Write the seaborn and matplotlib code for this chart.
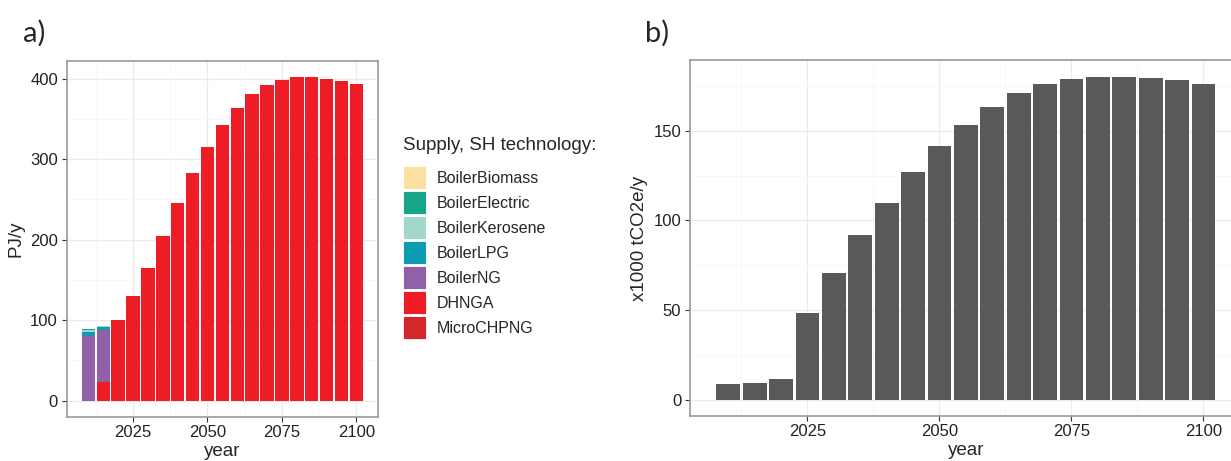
import numpy as np
import pandas as pd
import seaborn as sns
import matplotlib.pyplot as plt
from matplotlib.patches import Patch
from matplotlib.ticker import MultipleLocator

# ---- data ----
years = list(range(2010, 2101, 5))

techs = ['BoilerBiomass', 'BoilerElectric', 'BoilerKerosene', 'BoilerLPG',
         'BoilerNG', 'DHNGA', 'MicroCHPNG']
tech_colors = ['#FDDFA0', '#17A68A', '#A2D8CB', '#0E9CB3',
               '#9060A8', '#EE1C24', '#D3282B']

boiler_electric = [2.0, 1.0] + [0] * 17
boiler_kerosene = [2.0, 1.2] + [0] * 17
boiler_lpg = [4.5, 3.0] + [0] * 17
boiler_ng = [80.5, 64.2] + [0] * 17
dhnga = [0, 23.6, 100.2, 130.4, 165.2, 205, 245, 282.4, 315, 342, 364,
         381, 392, 398.3, 401.7, 401.7, 399.6, 397, 393]

emissions = [8.6, 9.3, 11.5, 48.3, 70.6, 91.8, 110, 126.8, 141.3, 153.5,
             163.4, 171, 176, 179, 180.3, 180.3, 179.4, 178.2, 176.4]

series = {
    'BoilerElectric': boiler_electric,
    'BoilerKerosene': boiler_kerosene,
    'BoilerLPG': boiler_lpg,
    'BoilerNG': boiler_ng,
    'DHNGA': dhnga,
}
rows = []
for tech, vals in series.items():
    for yr, v in zip(years, vals):
        rows.append({'year': yr, 'tech': tech, 'value': v})
supply = pd.DataFrame(rows)
co2 = pd.DataFrame({'year': years, 'value': emissions})

# ---- style ----
sns.set_style('white')
plt.rcParams['font.family'] = ['Liberation Sans', 'DejaVu Sans']
tick_fs = 12
lab_fs = 13.5
tick_col = '#333333'
frame_col = '#9A9A9A'

fig = plt.figure(figsize=(12.31, 4.61), dpi=100)
ax_a = fig.add_axes([0.0542, 0.0961, 0.2529, 0.7716])
ax_b = fig.add_axes([0.5605, 0.0983, 0.4482, 0.7705])

palette = dict(zip(techs, tech_colors))

# stacked bars, panel a (last hue level ends up at the bottom, like ggplot)
sns.histplot(data=supply, x='year', weights='value', hue='tech',
             hue_order=techs, palette=palette, multiple='stack',
             binwidth=5, binrange=(2007.5, 2102.5), shrink=0.9,
             alpha=1, linewidth=0, legend=False, ax=ax_a)

sns.barplot(data=co2, x='year', y='value', native_scale=True, width=0.9,
            color='#595959', saturation=1, errorbar=None, linewidth=0,
            ax=ax_b)


def style_axis(ax, ymax, ymajor, ylabel):
    ax.set_xlim(2002.75, 2107.25)
    ax.set_ylim(-0.05 * ymax, 1.05 * ymax)
    ax.xaxis.set_major_locator(MultipleLocator(25))
    ax.xaxis.set_minor_locator(MultipleLocator(12.5))
    ax.yaxis.set_major_locator(MultipleLocator(ymajor))
    ax.yaxis.set_minor_locator(MultipleLocator(ymajor / 2))
    ax.set_xticks([2025, 2050, 2075, 2100])
    ax.grid(which='major', color='#EBEBEB', lw=0.9, zorder=0)
    ax.grid(which='minor', color='#F5F5F5', lw=0.5, zorder=0)
    ax.set_axisbelow(True)
    ax.tick_params(which='major', length=3.8, width=0.8, color=tick_col,
                   labelsize=tick_fs, labelcolor='#222222', pad=2.5,
                   bottom=True, left=True)
    ax.tick_params(which='minor', length=0)
    for sp in ax.spines.values():
        sp.set_color(frame_col)
        sp.set_linewidth(1.2)
    ax.set_xlabel('year', fontsize=lab_fs, labelpad=2)
    ax.set_ylabel(ylabel, fontsize=lab_fs, labelpad=4)


style_axis(ax_a, 401.7, 100, 'PJ/y')
style_axis(ax_b, 180.3, 50, 'x1000 tCO2e/y')

# legend for panel a
fig.text(403 / 1231, 1 - 146 / 461, 'Supply, SH technology:',
         fontsize=13.5, va='center', ha='left')
handles = [Patch(facecolor=c, edgecolor='white', linewidth=0.6)
           for c in tech_colors]
fig.legend(handles, techs, loc='upper left',
           bbox_to_anchor=(402.5 / 1231, 1 - 166 / 461),
           frameon=False, fontsize=11.5, borderpad=0, borderaxespad=0,
           handlelength=1.46, handleheight=1.835, labelspacing=0.13,
           handletextpad=0.7)

fig.text(23 / 1231, 1 - 33 / 461, 'a)', fontsize=21, va='center',
         family=['Lato', 'DejaVu Sans'])
fig.text(645 / 1231, 1 - 33 / 461, 'b)', fontsize=21, va='center',
         family=['Lato', 'DejaVu Sans'])

fig.savefig('out.png', dpi=100)
